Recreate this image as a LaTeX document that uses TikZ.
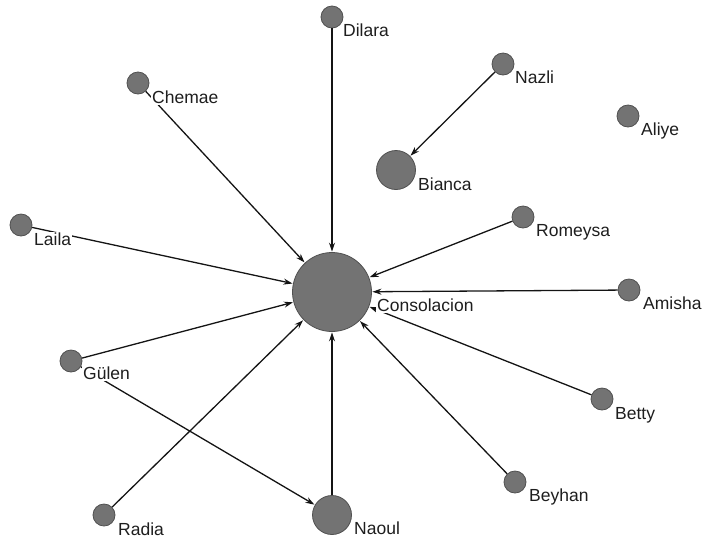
\documentclass[tikz,border=0pt]{standalone}
\usepackage{fontspec}
\setmainfont{Liberation Sans}
\usetikzlibrary{arrows.meta}
\definecolor{nodefill}{RGB}{115,115,115}
\definecolor{nodeline}{RGB}{80,80,80}
\definecolor{edgecol}{RGB}{20,20,20}
\definecolor{txt}{RGB}{30,30,30}
\tikzset{
  vsmall/.style={circle, fill=nodefill, draw=nodeline, line width=0.8pt, minimum size=22pt, inner sep=0pt},
  vmid/.style={circle, fill=nodefill, draw=nodeline, line width=0.8pt, minimum size=39pt, inner sep=0pt},
  vbig/.style={circle, fill=nodefill, draw=nodeline, line width=0.8pt, minimum size=79pt, inner sep=0pt},
  lab/.style={anchor=base west, fill=white, inner sep=1pt, text=txt, font=\fontsize{17.5}{18}\selectfont},
  edge/.style={draw=edgecol, line width=1.3pt, -{Stealth[length=9pt,width=6pt]}, shorten >=0.5pt}
}
\begin{document}
\begin{tikzpicture}[x=1pt,y=-1pt]
\useasboundingbox (0,0) rectangle (704,542);
% vertices
\node[vsmall] (dilara) at (332,17) {};
\node[vsmall] (chemae) at (138,83) {};
\node[vsmall] (nazli) at (503,64) {};
\node[vsmall] (aliye) at (628,116) {};
\node[vmid] (bianca) at (396,170) {};
\node[vsmall] (laila) at (21,225) {};
\node[vsmall] (romeysa) at (523,217) {};
\node[vbig] (cons) at (332,292) {};
\node[vsmall] (amisha) at (629,290) {};
\node[vsmall] (gulen) at (71,361) {};
\node[vsmall] (betty) at (602,399) {};
\node[vsmall] (beyhan) at (515,482) {};
\node[vsmall] (radia) at (104,515) {};
\node[vmid] (naoul) at (332,515) {};
% edges
\draw[edge] (dilara) -- (cons);
\draw[edge] (chemae) -- (cons);
\draw[edge] (laila) -- (cons);
\draw[edge] (gulen) -- (cons);
\draw[edge] (radia) -- (cons);
\draw[edge] (naoul) -- (cons);
\draw[edge] (beyhan) -- (cons);
\draw[edge] (betty) -- (cons);
\draw[edge] (amisha) -- (cons);
\draw[edge] (romeysa) -- (cons);
\draw[edge] (gulen) -- (naoul);
\draw[edge] (nazli) -- (bianca);
% labels
\node[lab] (ldilara) at (342,36.5) {Dilara};
\node[lab] (lchemae) at (151,103.5) {Chemae};
\node[lab] (lnazli) at (514,83.5) {Nazli};
\node[lab] (lbianca) at (417,190.5) {Bianca};
\node[lab] (laliye) at (640,135.5) {Aliye};
\node[lab] (llaila) at (33,245.5) {Laila};
\node[lab] (lromeysa) at (535,236.5) {Romeysa};
\node[lab] (lcons) at (376,311.5) {Consolacion};
\node[lab] (lamisha) at (642,309.5) {Amisha};
\node[lab] (lgulen) at (82,379.5) {Gülen};
\node[lab] (lbetty) at (614,419.5) {Betty};
\node[lab] (lbeyhan) at (528,501.5) {Beyhan};
\node[lab] (lradia) at (117,535.5) {Radia};
\node[lab] (lnaoul) at (353,534.5) {Naoul};
\end{tikzpicture}
\end{document}
